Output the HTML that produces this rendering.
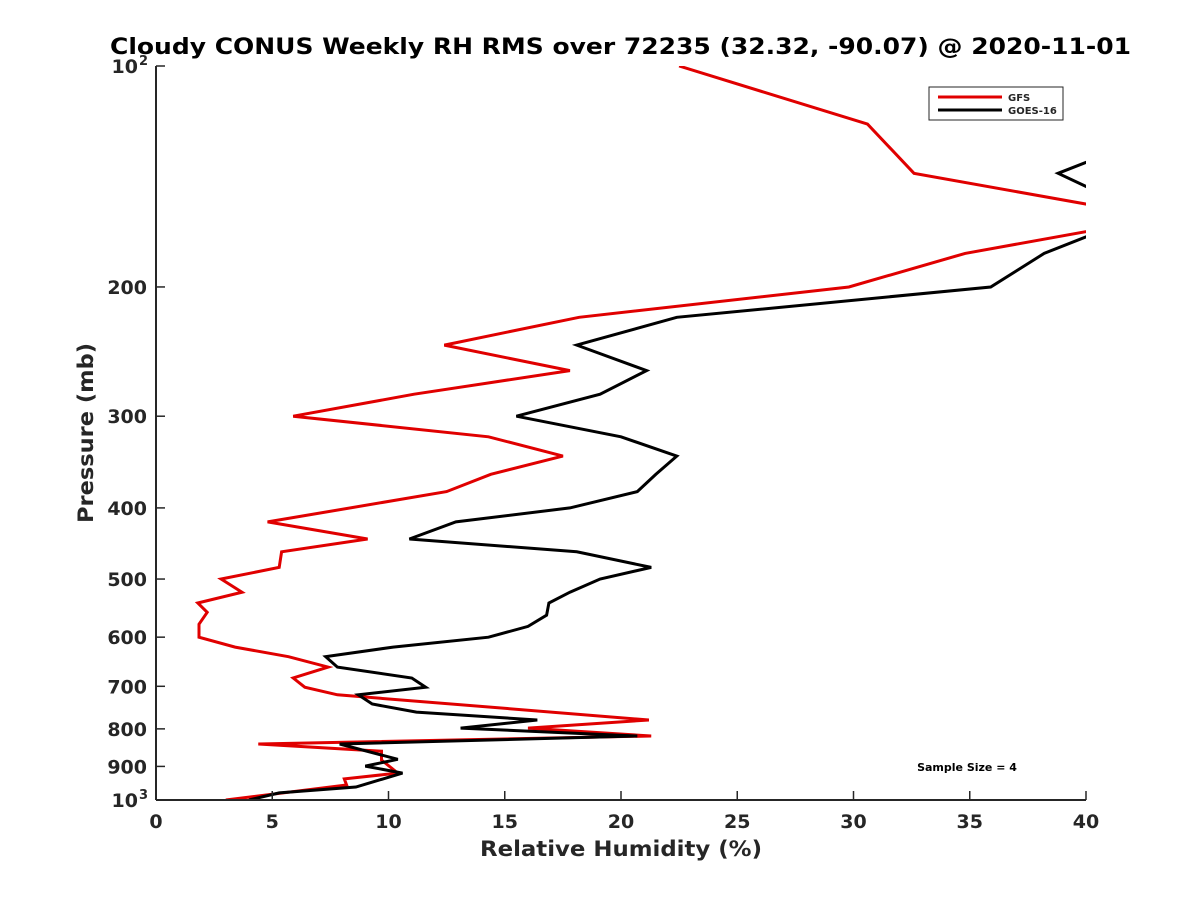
<!DOCTYPE html>
<html><head><meta charset="utf-8"><style>
body{margin:0;background:#fff;}
svg text{font-family:"DejaVu Sans","Liberation Sans",sans-serif;font-weight:bold;fill:#262626;}
</style></head><body>
<svg id="chart" width="1200" height="900" xmlns="http://www.w3.org/2000/svg">
<rect width="1200" height="900" fill="#fff"/>
<text x="110" y="54" font-size="22" textLength="1021" lengthAdjust="spacingAndGlyphs" style="fill:#000">Cloudy CONUS Weekly RH RMS over 72235 (32.32, -90.07) @ 2020-11-01</text>
<defs><clipPath id="plotclip"><rect x="156" y="66" width="930" height="734"/></clipPath></defs>
<g id="series" clip-path="url(#plotclip)"></g>
<g id="axes"></g>
<g>
<rect x="929" y="87" width="134" height="33" fill="#fff" stroke="#262626" stroke-width="1"/>
<line x1="938" y1="97" x2="1002" y2="97" stroke="#e00000" stroke-width="3"/>
<text x="1008" y="101" font-size="10">GFS</text>
<line x1="938" y1="110" x2="1002" y2="110" stroke="#000" stroke-width="3"/>
<text x="1008" y="114" font-size="10">GOES-16</text>
</g>
<text x="967" y="771" font-size="11" text-anchor="middle" style="fill:#000">Sample Size = 4</text>
<text x="480" y="856" font-size="21" textLength="282" lengthAdjust="spacingAndGlyphs">Relative Humidity (%)</text>
<text transform="translate(93,523) rotate(-90)" font-size="21" textLength="180" lengthAdjust="spacingAndGlyphs">Pressure (mb)</text>
</svg>
<script>
const gfsPressure=[100,120,140,161,180,200,220,240,260,280,300,320,340,360,380,418,441,459,482,500,521,539,555,576,600,619,638,659,682,702,719,778,798,818,839,858,882,919,936,954,1000];
const gfsValues=[22.5,30.6,32.6,43.3,34.8,29.8,18.2,12.4,17.8,11.1,5.9,14.3,17.5,14.4,12.5,4.8,9.1,5.4,5.3,2.8,3.7,1.8,2.2,1.85,1.85,3.4,5.7,7.4,5.9,6.4,7.8,21.2,16.0,21.3,4.4,9.7,9.7,10.4,8.1,8.2,3.0];
const goesPressure=[130,140,159,180,200,220,240,260,280,300,320,340,360,380,400,418,441,459,482,500,521,539,560,580,600,619,638,659,682,702,719,740,759,778,798,818,839,880,899,919,960,978,1000];
const goesValues=[41.4,38.8,42.5,38.2,35.9,22.4,18.1,21.1,19.1,15.5,20.0,22.4,21.5,20.7,17.8,12.9,10.9,18.1,21.3,19.1,17.8,16.9,16.8,16.0,14.3,10.2,7.3,7.8,11.0,11.6,8.7,9.3,11.2,16.4,13.1,20.7,7.9,10.4,9.0,10.6,8.6,5.3,4.0];
const xTicks=[0,5,10,15,20,25,30,35,40];
const yTicks=[100,200,300,400,500,600,700,800,900,1000];
const yTickLabels=["","200","300","400","500","600","700","800","900",""];
const NS="http://www.w3.org/2000/svg";
const X0=156,X1=1086,Y0=66,Y1=800;
function xs(v){return X0+(v/40)*(X1-X0);}
function ys(p){return Y0+(Math.log10(p)-2)*(Y1-Y0);}
function mk(t,a,parent){const e=document.createElementNS(NS,t);for(const k in a)e.setAttribute(k,a[k]);parent.appendChild(e);return e;}
const sg=document.getElementById('series');
function line(ps,vs,color,name){
  const d=ps.map((p,i)=>(i?'L':'M')+xs(vs[i]).toFixed(1)+','+ys(p).toFixed(1)).join(' ');
  const e=mk('path',{d:d,fill:'none',stroke:color,'stroke-width':3,'stroke-linejoin':'miter'},sg);
  
  
}
line(gfsPressure,gfsValues,'#e00000','gfs-line');
line(goesPressure,goesValues,'#000','goes16-line');
const ax=document.getElementById('axes');
const xa=mk('line',{x1:X0,y1:Y1,x2:X1,y2:Y1,stroke:'#262626','stroke-width':2},ax);


const ya=mk('line',{x1:X0,y1:Y0,x2:X0,y2:Y1,stroke:'#262626','stroke-width':2},ax);


xTicks.forEach(v=>{
  const x=xs(v);
  mk('line',{x1:x,y1:Y1,x2:x,y2:Y1-9,stroke:'#262626','stroke-width':1.5},ax);
  const t=mk('text',{x:x,y:828,'font-size':19,'text-anchor':'middle'},ax);
  t.textContent=v;
  
  
});
yTicks.forEach((p,i)=>{
  const y=ys(p);
  mk('line',{x1:X0,y1:y,x2:X0+9,y2:y,stroke:'#262626','stroke-width':1.5},ax);
  if(yTickLabels[i]){
    const t=mk('text',{x:147,y:y+7,'font-size':19,'text-anchor':'end'},ax);
    t.textContent=yTickLabels[i];
    
    
  }
});
[[100,'2'],[1000,'3']].forEach(([p,e])=>{
  const y=ys(p);
  const t=mk('text',{x:138,y:y+7,'font-size':19,'text-anchor':'end'},ax);
  
  
  t.textContent='10';
  const s=mk('text',{x:148,y:y-1,'font-size':13,'text-anchor':'end'},ax);
  s.textContent=e;
  
  
});
</script>
</body></html>
